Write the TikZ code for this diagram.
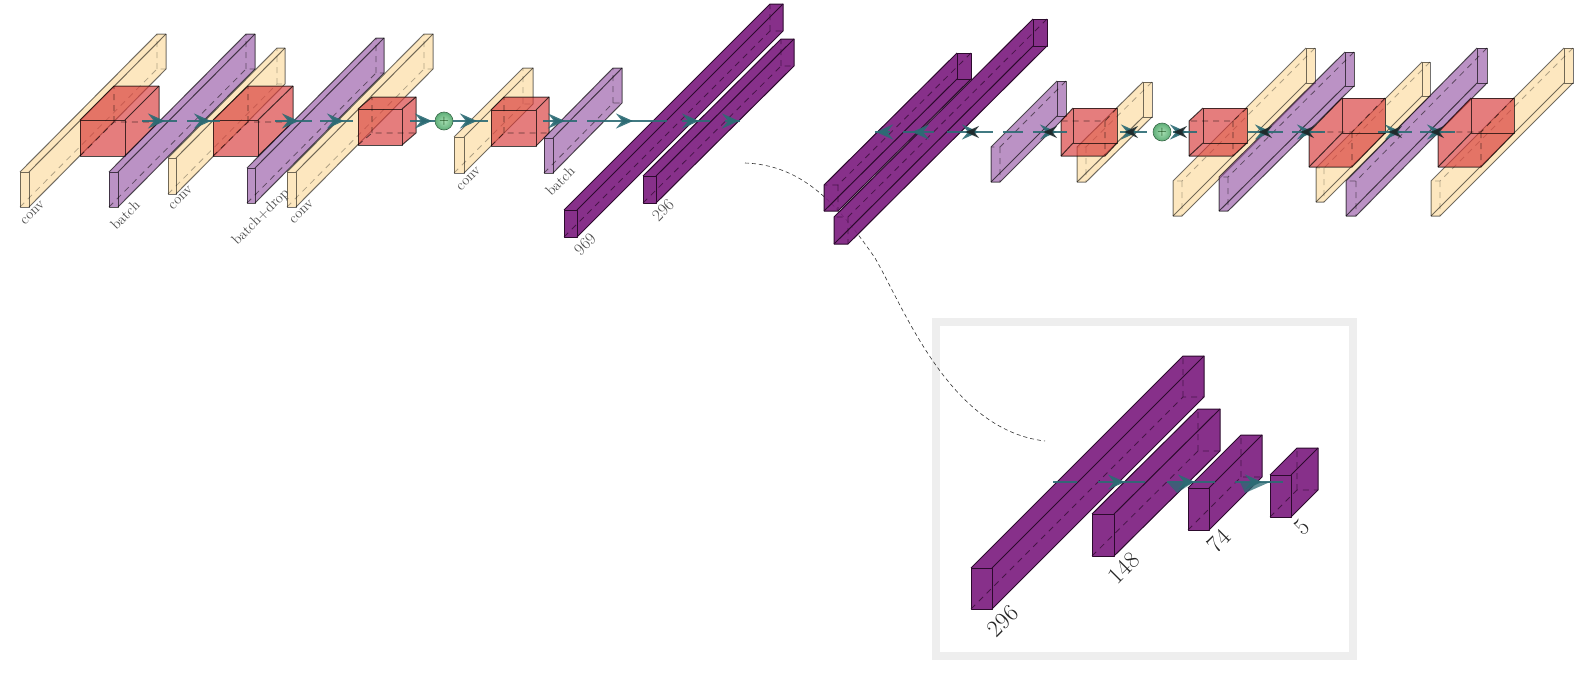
\documentclass[tikz,border=0pt]{standalone}
\usetikzlibrary{arrows.meta,decorations.markings}
\definecolor{tealc}{HTML}{2C6B74}
\definecolor{darkc}{HTML}{1E2A2C}
\definecolor{yelc}{HTML}{FBD48A}
\definecolor{batc}{HTML}{8E4A9E}
\definecolor{redc}{HTML}{D73737}
\definecolor{purc}{HTML}{7D1E80}
\definecolor{framec}{HTML}{EEEEEE}
\definecolor{greenin}{HTML}{A8E0B4}
\definecolor{greenout}{HTML}{5FAE78}
\tikzset{
  yel/.style={fill=yelc,fill opacity=.55,draw=black,draw opacity=.55,hidop/.style={draw opacity=.3}},
  bat/.style={fill=batc,fill opacity=.6,draw=black,draw opacity=.65,hidop/.style={draw opacity=.5}},
  rd/.style={fill=redc,fill opacity=.65,draw=black,draw opacity=.7,hidop/.style={draw opacity=.6}},
  pur/.style={fill=purc,fill opacity=.92,draw=black!65!purc,draw opacity=1,hidop/.style={draw opacity=.7}},
  edge/.style={line width=1pt,line join=round},
  hid/.style={line width=.8pt,dash pattern=on 6pt off 5pt,hidop},
  conline/.style={line width=2.8pt,draw=tealc,draw opacity=.9},
  head/.style={>={Stealth[length=17pt,width=15pt,inset=6pt]}},
  smalllab/.style={rotate=45,text=black!70,font=\fontsize{14.5}{15}\selectfont,inner sep=0pt},
  numlab/.style={rotate=45,text=black!70,font=\fontsize{17}{18}\selectfont,inner sep=0pt},
  biglab/.style={rotate=45,text=black!85,font=\fontsize{24}{26}\selectfont,inner sep=0pt},
  wedge/.style={fill=tealc,fill opacity=.75,draw=none},
  plusnode/.style={circle,draw=greenout!60!black,line width=.6pt,shading=radial,inner color=greenin,outer color=greenout,minimum size=18pt,inner sep=0pt,text=green!20!black,font=\fontsize{13}{13}\selectfont},
}
% back face up-right of the front face
\newcommand{\cubeup}[8]{%
  \coordinate (#1) at ({#2+#4/2+#6/2},{#3+#5/2-#7/2});
  \path[#8,edge,draw=none] (#2,#3) -- ++(#6,-#7) -- ++(#4,0) -- ++(0,#5) -- ++(-#6,#7) -- ++(-#4,0) -- cycle;
  \draw[#8,fill=none,hid] (#2,{#3+#5}) -- ++(#6,-#7) -- ++(#4,0) ++(-#4,0) -- ++(0,-#5);
  \draw[#8,fill=none,edge] (#2,#3) rectangle ({#2+#4},{#3+#5});
  \draw[#8,fill=none,edge] (#2,#3) -- ++(#6,-#7) -- ++(#4,0) -- ++(0,#5) -- ({#2+#4},{#3+#5});
  \draw[#8,fill=none,edge] ({#2+#4},#3) -- ++(#6,-#7);
}
% back face down-left of the front face (#6 and #7 are positive offsets)
\newcommand{\cubedn}[8]{%
  \coordinate (#1) at ({#2+#4/2-#6/2},{#3+#5/2+#7/2});
  \path[#8,edge,draw=none] (#2,#3) -- ++(#4,0) -- ++(0,#5) -- ++(-#6,#7) -- ++(-#4,0) -- ++(0,-#5) -- cycle;
  \draw[#8,fill=none,hid] ({#2+#4},#3) -- ++(-#6,#7) -- ++(-#4,0) ++(#4,0) -- ++(0,#5);
  \draw[#8,fill=none,edge] (#2,#3) rectangle ({#2+#4},{#3+#5});
  \draw[#8,fill=none,edge] (#2,#3) -- ++(-#6,#7) -- ++(0,#5) -- ++(#4,0) -- ({#2+#4},{#3+#5});
  \draw[#8,fill=none,edge] (#2,{#3+#5}) -- ++(-#6,#7);
}
% connector: name, x1, x2, y, distance of the head from the start
\newcommand{\conn}[5]{%
  \coordinate (#1a) at (#2,#4); \coordinate (#1b) at (#3,#4);
  \draw[conline,head,postaction={decorate},decoration={markings,mark=at position #5pt with {\arrow[tealc]{>}}}] (#1a) -- (#1b);
}
% connector with a dark reversed head over the teal head
\newcommand{\connd}[5]{%
  \coordinate (#1a) at (#2,#4); \coordinate (#1b) at (#3,#4);
  \draw[conline,head,postaction={decorate},decoration={markings,mark=at position #5pt with {\arrow[tealc]{>}},mark=at position #5pt with {\arrow[darkc,scale=.8]{<}}}] (#1a) -- (#1b);
}
\newcommand{\connp}[4]{%
  \coordinate (#1a) at (#2,#4); \coordinate (#1b) at (#3,#4);
  \draw[conline] (#1a) -- (#1b);
}
\begin{document}
\begin{tikzpicture}[x=1pt,y=-1pt]
\useasboundingbox (0,0) rectangle (1580,678);
% frame
\node[draw=framec,line width=8pt,minimum width=417pt,minimum height=334pt,inner sep=0pt,anchor=north west] (frame) at (932,318) {};
% dashed leader
\coordinate (leadA) at (745,163);
\coordinate (leadB) at (875,258);
\coordinate (leadC) at (1045,441);
\draw[line width=.6pt,dash pattern=on 4pt off 3pt,black!80] (leadA) .. controls (800,165) and (835,200) .. (leadB) .. controls (905,310) and (950,430) .. (leadC);
% encoder
\cubeup{y1}{20}{172}{9}{35}{137}{138}{yel}
\cubeup{r1}{80}{120}{45}{36}{34}{34}{rd}
\cubeup{b1}{109}{172}{9}{35}{137}{138}{bat}
\cubeup{y2}{168}{158}{8}{36}{109}{110}{yel}
\cubeup{r2}{213}{120}{45}{36}{35}{34}{rd}
\cubeup{b2}{247}{168}{8}{35}{129}{130}{bat}
\cubeup{y3}{287}{172}{9}{35}{137}{138}{yel}
\cubeup{r3}{358}{109}{44}{36}{14}{12}{rd}
\cubeup{y4}{454}{137}{10}{36}{69}{69}{yel}
\cubeup{r4}{491}{110}{45}{36}{13}{13}{rd}
\cubeup{b3}{544}{138}{9}{35}{69}{70}{bat}
\cubeup{p1}{564}{210}{13}{27}{206}{206}{pur}
\cubeup{p2}{643}{176}{13}{27}{138}{137}{pur}
% decoder
\cubedn{p3}{957}{53}{14}{26}{133}{132}{pur}
\cubedn{p4}{1033}{19}{14}{27}{199}{198}{pur}
\cubedn{b4}{1057}{81}{9}{35}{66}{66}{bat}
\cubedn{y5}{1143}{82}{9}{35}{66}{65}{yel}
\cubedn{r5}{1073}{108}{44}{35}{12}{13}{rd}
\cubedn{y6}{1306}{48}{9}{35}{133}{133}{yel}
\cubedn{r6}{1203}{108}{44}{35}{14}{13}{rd}
\cubedn{b5}{1345}{52}{9}{34}{126}{125}{bat}
\cubedn{y7}{1422}{62}{8}{34}{106}{106}{yel}
\cubedn{r7}{1342}{98}{43}{35}{33}{34}{rd}
\cubedn{b6}{1477}{48}{10}{35}{131}{133}{bat}
\cubedn{y8}{1564}{48}{9}{35}{133}{133}{yel}
\cubedn{r8}{1471}{98}{43}{35}{33}{34}{rd}
% inset
\cubeup{q1}{971}{568}{21}{41}{212}{212}{pur}
\cubeup{q2}{1092}{514}{22}{42}{106}{105}{pur}
\cubeup{q3}{1188}{488}{21}{42}{53}{53}{pur}
\cubeup{q4}{1270}{475}{21}{42}{27}{27}{pur}
% connectors
\conn{e1}{142}{177}{121}{23}
\conn{e2}{187}{220}{121}{24}
\conn{e3}{275}{312}{121}{24}
\conn{e4}{320}{353}{121}{24}
\node[plusnode] (plusA) at (444,121) {+};
\conn{e5}{410}{435}{121}{22}
\conn{e6}{453}{488}{121}{24}
\conn{e7}{543}{577}{121}{22}
\conn{e8}{587}{667}{121}{46}
\conn{e9}{682}{710}{121}{17}
\conn{e10}{725}{740}{121}{14}
\conn{d1}{890}{875}{132}{14}
\conn{d2}{934}{903}{132}{22}
\connd{d3}{947}{985}{132}{32}
\connp{d4}{985}{993}{132}
\connp{d5}{1003}{1023}{132}
\connd{d6}{1033}{1067}{132}{24}
\connd{d7}{1120}{1147}{132}{18}
\node[plusnode] (plusB) at (1162,132) {+};
\connd{d8}{1173}{1197}{132}{14}
\connd{d9}{1248}{1283}{132}{24}
\connd{d10}{1292}{1325}{132}{22}
\connd{d11}{1378}{1412}{132}{24}
\connd{d12}{1420}{1455}{132}{24}
\connp{i1}{1053}{1077}{482}
\conn{i2}{1098}{1145}{482}{27}
\conn{i3}{1167}{1215}{482}{28}
\conn{i4}{1235}{1283}{482}{27}
\fill[wedge] (1177,493) -- (1192,483) -- (1168,483) -- cycle;
\fill[wedge] (1245,493) -- (1270,482) -- (1240,482) -- cycle;
% labels
\node[smalllab] (l1) at (33,213) {conv};
\node[smalllab] (l2) at (125,215) {batch};
\node[smalllab] (l3) at (181,198) {conv};
\node[smalllab] (l4) at (261,217) {batch+drop};
\node[smalllab] (l5) at (302,212) {conv};
\node[smalllab] (l6) at (469,179) {conv};
\node[smalllab] (l7) at (560,181) {batch};
\node[numlab] (l8) at (585,244) {969};
\node[numlab] (l9) at (663,210) {296};
\node[biglab] (l10) at (1003,621) {296};
\node[biglab] (l11) at (1124,568) {148};
\node[biglab] (l12) at (1219,541) {74};
\node[biglab] (l13) at (1302,527) {5};
\end{tikzpicture}
\end{document}
